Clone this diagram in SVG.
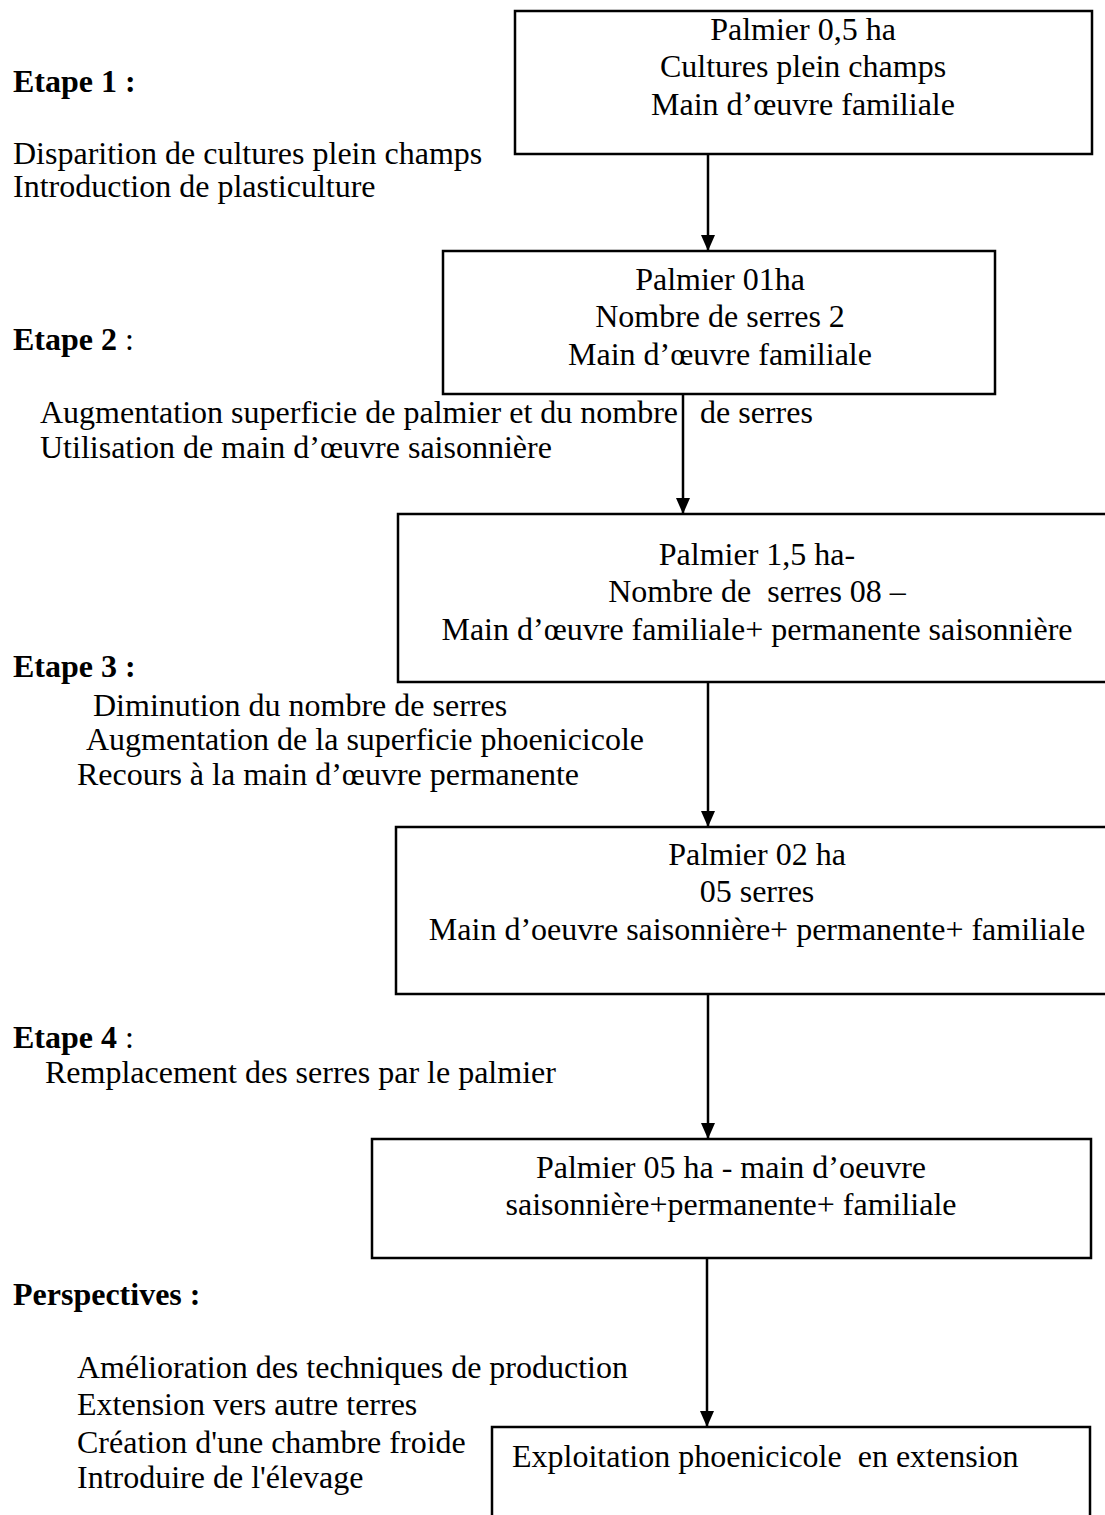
<svg xmlns="http://www.w3.org/2000/svg" width="1105" height="1515" viewBox="0 0 1105 1515">
  <style>
    text { font-family: "Liberation Serif", "Times New Roman", serif; font-size: 32px; fill: #000; white-space: pre; }
    .b { font-weight: bold; }
    .c { text-anchor: middle; }
    .box { fill: #fff; stroke: #000; stroke-width: 2.5; }
    .link { stroke: #000; stroke-width: 2.5; fill: none; }
  </style>
  <defs>
    <marker id="arrow" viewBox="0 0 16 14" refX="16" refY="7" markerWidth="16" markerHeight="14" markerUnits="userSpaceOnUse" orient="auto">
      <path d="M0,0 L16,7 L0,14 Z" fill="#000"/>
    </marker>
  </defs>
  <rect width="1105" height="1515" fill="#fff"/>

  <!-- stage descriptions on the left -->
  <g id="etape1">
    <text class="b" x="13" y="92">Etape 1 :</text>
    <text x="13" y="164">Disparition de cultures plein champs</text>
    <text x="13" y="197">Introduction de plasticulture</text>
  </g>
  <g id="etape2">
    <text x="13" y="350"><tspan class="b">Etape 2</tspan> :</text>
    <text x="40" y="423">Augmentation superficie de palmier et du nombre</text>
    <text x="700" y="423">de serres</text>
    <text x="40" y="458">Utilisation de main d’œuvre saisonnière</text>
  </g>
  <g id="etape3">
    <text class="b" x="13" y="677">Etape 3 :</text>
    <text x="93" y="716">Diminution du nombre de serres</text>
    <text x="86" y="750">Augmentation de la superficie phoenicicole</text>
    <text x="77" y="785">Recours à la main d’œuvre permanente</text>
  </g>
  <g id="etape4">
    <text x="13" y="1048"><tspan class="b">Etape 4</tspan> :</text>
    <text x="45" y="1083">Remplacement des serres par le palmier</text>
  </g>
  <g id="perspectives">
    <text class="b" x="13" y="1305">Perspectives :</text>
    <text x="77" y="1378">Amélioration des techniques de production</text>
    <text x="77" y="1415">Extension vers autre terres</text>
    <text x="77" y="1453">Création d'une chambre froide</text>
    <text x="77" y="1488">Introduire de l'élevage</text>
  </g>

  <!-- connectors -->
  <g id="connectors">
    <line class="link" x1="708" y1="154" x2="708" y2="251" marker-end="url(#arrow)"/>
    <line class="link" x1="683" y1="394" x2="683" y2="514" marker-end="url(#arrow)"/>
    <line class="link" x1="708" y1="682" x2="708" y2="827" marker-end="url(#arrow)"/>
    <line class="link" x1="708" y1="994" x2="708" y2="1139" marker-end="url(#arrow)"/>
    <line class="link" x1="707" y1="1258" x2="707" y2="1427" marker-end="url(#arrow)"/>
  </g>

  <!-- situation boxes -->
  <g id="box1">
    <rect class="box" x="515" y="11" width="577" height="143"/>
    <text class="c" x="803" y="40">Palmier 0,5 ha</text>
    <text class="c" x="803" y="77">Cultures plein champs</text>
    <text class="c" x="803" y="115">Main d’œuvre familiale</text>
  </g>
  <g id="box2">
    <rect class="box" x="443" y="251" width="552" height="143"/>
    <text class="c" x="720" y="290">Palmier 01ha</text>
    <text class="c" x="720" y="327">Nombre de serres 2</text>
    <text class="c" x="720" y="365">Main d’œuvre familiale</text>
  </g>
  <g id="box3">
    <rect class="box" x="398" y="514" width="722" height="168"/>
    <text class="c" x="757" y="565">Palmier 1,5 ha-</text>
    <text class="c" x="757" y="602">Nombre de  serres 08 –</text>
    <text class="c" x="757" y="640">Main d’œuvre familiale+ permanente saisonnière</text>
  </g>
  <g id="box4">
    <rect class="box" x="396" y="827" width="724" height="167"/>
    <text class="c" x="757" y="865">Palmier 02 ha</text>
    <text class="c" x="757" y="902">05 serres</text>
    <text class="c" x="757" y="940">Main d’oeuvre saisonnière+ permanente+ familiale</text>
  </g>
  <g id="box5">
    <rect class="box" x="372" y="1139" width="719" height="119"/>
    <text class="c" x="731" y="1178">Palmier 05 ha - main d’oeuvre</text>
    <text class="c" x="731" y="1215">saisonnière+permanente+ familiale</text>
  </g>
  <g id="box6">
    <rect class="box" x="492" y="1427" width="598" height="100"/>
    <text x="512" y="1467">Exploitation phoenicicole  en extension</text>
  </g>
</svg>
